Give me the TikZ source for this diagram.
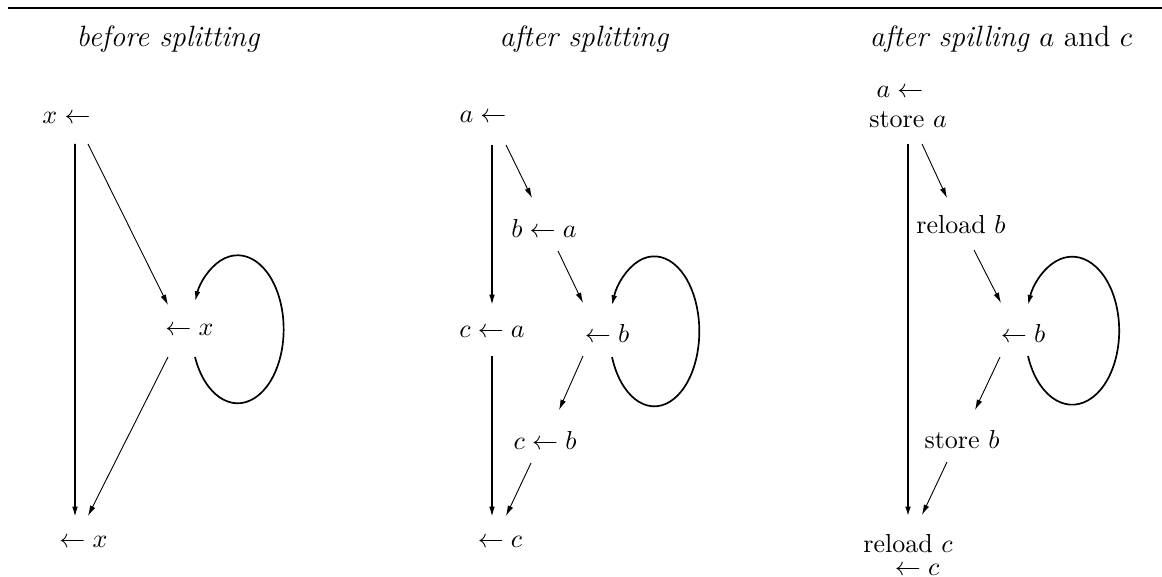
\documentclass[tikz,border=0pt]{standalone}
\usepackage{tikz}
\usetikzlibrary{arrows.meta, calc}

\begin{document}
\begin{tikzpicture}[
  x=0.3846pt, y=-0.3846pt,
  title/.style={anchor=base, font=\fontsize{11.3}{13}\selectfont},
  lbl/.style={inner sep=0pt},
  flow/.style={-{Latex[length=4pt,width=2.2pt]}, line width=0.6pt},
  hop/.style={-{Latex[length=4pt,width=2.2pt]}, line width=0.35pt},
  loopback/.style={-{Latex[length=4pt,width=2.2pt]}, line width=0.65pt}
]
  \useasboundingbox (0,0) rectangle (1162,577);
  \draw[line width=0.8pt] (8,8) -- (1162,8);

  % Titles
  \node[title] (t1) at (168,47) {\itshape before splitting};
  \node[title] (t2) at (584,47) {\itshape after splitting};
  \node[title] (t3) at (1001,47) {\textit{after spilling} $a$ and $c$};

  % Before splitting
  \node[lbl] (x1) at (66.5,118) {$x \leftarrow$};
  \node[lbl] (x2) at (189.5,330) {$\leftarrow x$};
  \node[lbl] (x3) at (83.5,542) {$\leftarrow x$};
  \draw[flow] ($(x1)+(8.5,26)$) -- ($(x3)+(-8.5,-25)$);
  \draw[hop] ($(x1)+(21.5,26)$) -- ($(x2)+(-21.5,-25)$);
  \draw[hop] ($(x2)+(-21.5,27)$) -- ($(x3)+(4.5,-26)$);
  \draw[loopback] ($(x2)+(5.5,27)$) arc[start angle=158, end angle=-158, x radius=46, y radius=74];

  % After splitting
  \node[lbl] (a1) at (483,117) {$a \leftarrow$};
  \node[lbl] (b1) at (544,228) {$b \leftarrow a$};
  \node[lbl] (c1) at (492,332) {$c \leftarrow a$};
  \node[lbl] (b2) at (607,333) {$\leftarrow b$};
  \node[lbl] (c2) at (545,440) {$c \leftarrow b$};
  \node[lbl] (c3) at (500,542) {$\leftarrow c$};
  \draw[flow] ($(a1)+(9,28)$) -- ($(c1)+(0,-27)$);
  \draw[flow] ($(c1)+(0,24)$) -- ($(c3)+(-8,-25)$);
  \draw[hop] ($(a1)+(23,28)$) -- ($(b1)+(-12,-30)$);
  \draw[hop] ($(b1)+(14,23)$) -- ($(b2)+(-24,-30)$);
  \draw[hop] ($(b2)+(-24,23)$) -- ($(c2)+(14,-30)$);
  \draw[hop] ($(c2)+(-14,23)$) -- ($(c3)+(6,-26)$);
  \draw[loopback] ($(b2)+(5,24)$) arc[start angle=160, end angle=-160, x radius=45, y radius=75];

  % After spilling
  \node[lbl] (s0) at (900,92) {$a \leftarrow$};
  \node[lbl] (s1) at (908,120) {store $a$};
  \node[lbl] (r1) at (961,225) {reload $b$};
  \node[lbl] (b3) at (1023,333) {$\leftarrow b$};
  \node[lbl] (s2) at (962,440) {store $b$};
  \node[lbl] (r2) at (908,544) {reload $c$};
  \node[lbl] (c4) at (917,570) {$\leftarrow c$};
  \draw[flow, line width=0.85pt] ($(s1)+(0,24)$) -- ($(r2)+(0,-27)$);
  \draw[hop] ($(s1)+(14,24)$) -- ($(r1)+(-14,-27)$);
  \draw[hop] ($(r1)+(13,25)$) -- ($(b3)+(-22,-30)$);
  \draw[hop] ($(b3)+(-23,24)$) -- ($(s2)+(13,-30)$);
  \draw[hop] ($(s2)+(-15,22)$) -- ($(r2)+(14,-29)$);
  \draw[loopback] ($(b3)+(5,23)$) arc[start angle=160, end angle=-160, x radius=47, y radius=74];
\end{tikzpicture}
\end{document}
